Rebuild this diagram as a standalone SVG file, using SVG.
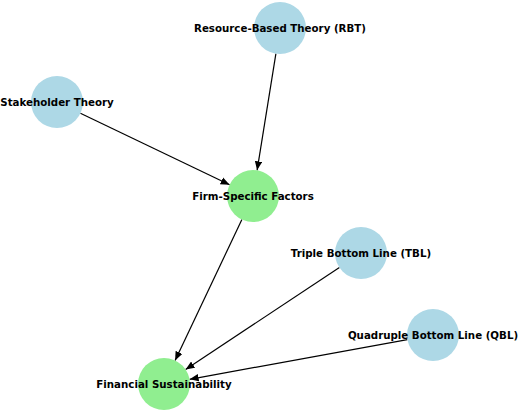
<svg xmlns="http://www.w3.org/2000/svg" width="520" height="413" viewBox="0 0 520 413">
<style>
.theory{fill:#add8e6}
.factor{fill:#90ee90}
.lbl{font-family:"DejaVu Sans",sans-serif;font-weight:bold;font-size:10.25px;fill:#000;text-anchor:middle;dominant-baseline:central}
.edge{stroke:#000;stroke-width:1.2;fill:none}
</style>
<defs>
<marker id="arr" markerUnits="userSpaceOnUse" markerWidth="10" markerHeight="8" refX="9" refY="4" orient="auto">
<path d="M0,0.3 L9,4 L0,7.7 Z" fill="#000"/>
</marker>
</defs>
<rect width="520" height="413" fill="#fff"/>
<g id="connectors">
<line class="edge" x1="80.4" y1="113.2" x2="229.6" y2="184.8" marker-end="url(#arr)"/>
<line class="edge" x1="275.9" y1="53.7" x2="257.1" y2="170.3" marker-end="url(#arr)"/>
<line class="edge" x1="241.9" y1="219.5" x2="175.1" y2="360.5" marker-end="url(#arr)"/>
<line class="edge" x1="339.4" y1="267.4" x2="185.6" y2="369.6" marker-end="url(#arr)"/>
<line class="edge" x1="407.4" y1="339.7" x2="189.6" y2="379.3" marker-end="url(#arr)"/>
</g>
<g id="node-rbt"><circle class="theory" cx="280" cy="28" r="26"/><text class="lbl" x="280" y="28">Resource-Based Theory (RBT)</text></g>
<g id="node-stakeholder"><circle class="theory" cx="57" cy="102" r="26"/><text class="lbl" x="57" y="102">Stakeholder Theory</text></g>
<g id="node-firm"><circle class="factor" cx="253" cy="196" r="26"/><text class="lbl" x="253" y="196">Firm-Specific Factors</text></g>
<g id="node-tbl"><circle class="theory" cx="361" cy="253" r="26"/><text class="lbl" x="361" y="253">Triple Bottom Line (TBL)</text></g>
<g id="node-qbl"><circle class="theory" cx="433" cy="335" r="26"/><text class="lbl" x="433" y="335">Quadruple Bottom Line (QBL)</text></g>
<g id="node-fin"><circle class="factor" cx="164" cy="384" r="26"/><text class="lbl" x="164" y="384">Financial Sustainability</text></g>
</svg>
